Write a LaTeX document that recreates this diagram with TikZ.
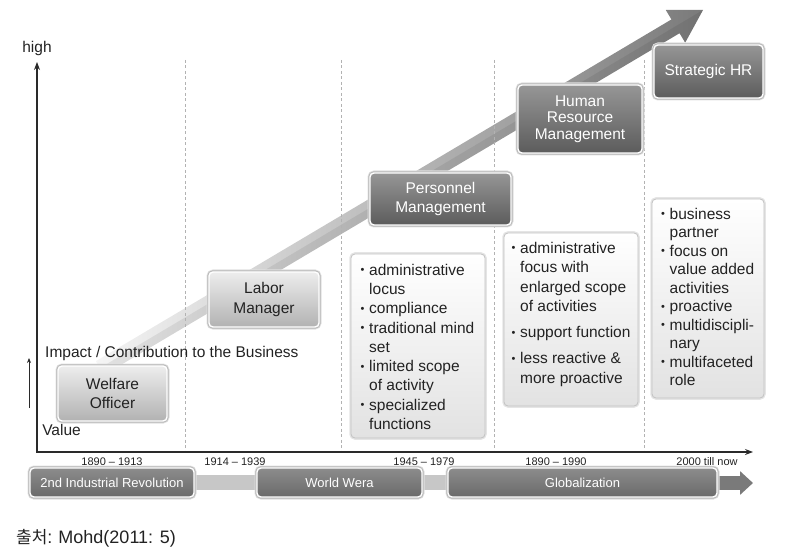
\documentclass[tikz,border=0pt]{standalone}
\usepackage{fontspec}
\setmainfont{Liberation Sans}
\newfontfamily\krfont{Noto Sans CJK KR}
\usetikzlibrary{arrows.meta}
\definecolor{dtop}{HTML}{969696}
\definecolor{dbot}{HTML}{5C5C5C}
\definecolor{ltop}{HTML}{EDEDED}
\definecolor{lbot}{HTML}{B2B2B2}
\definecolor{btop}{HTML}{FFFFFF}
\definecolor{bbot}{HTML}{E2E2E2}
\definecolor{ttop}{HTML}{8C8C8C}
\definecolor{tbot}{HTML}{6A6A6A}
\definecolor{txt}{HTML}{222222}
\definecolor{axiscol}{HTML}{2A2A2A}
\newcommand{\bulx}{\makebox[8.5pt][l]{\raisebox{1.5pt}{\fontsize{11}{11}\selectfont\textbullet}}}
\newcommand{\indx}{\makebox[8.5pt][l]{}}
\begin{document}
\begin{tikzpicture}[x=1pt,y=-1pt,
  rimbox/.style={rounded corners=4pt, draw=white, line width=1.4pt,
     preaction={draw=black!12, line width=5pt},
     preaction={draw=black!28, line width=3.4pt}},
  darkbox/.style={rimbox, top color=dtop, bottom color=dbot, text=white,
     align=center, font=\fontsize{15.5}{19.5}\selectfont},
  lightbox/.style={rimbox, top color=ltop, bottom color=lbot, text=txt,
     align=center, font=\fontsize{15.5}{19.5}\selectfont},
  bulbox/.style={rounded corners=4pt, draw=black!24, line width=0.8pt,
     preaction={draw=black!10, line width=3.5pt},
     top color=btop, bottom color=bbot},
  bultext/.style={anchor=north west, inner sep=0pt, align=left, text=txt},
  tlbar/.style={rimbox, top color=ttop, bottom color=tbot, text=white,
     font=\fontsize{13}{15}\selectfont, minimum height=29pt},
  tlconn/.style={line width=15pt, draw=black!22},
  year/.style={font=\fontsize{11}{12}\selectfont, text=txt, inner sep=0pt},
  vdash/.style={draw=black!30, line width=0.6pt, dash pattern=on 3pt off 2.5pt},
  axisline/.style={draw=axiscol, line width=1.2pt},
  lbl/.style={font=\fontsize{15.5}{18}\selectfont, text=txt, inner sep=0pt}
]
\useasboundingbox (0,0) rectangle (787,553);

% dashed separators
\foreach \xx/\nm in {185/d1,341/d2,494/d3,644/d4}{
  \coordinate (\nm t) at (\xx,60);
  \coordinate (\nm b) at (\xx,452);
}

% big rising arrow
\shade[left color=black!4, right color=black!52]
  (104.08,374.88) -- (679.57,33.22) -- (685.19,42.68) -- (703,10)
  -- (665.79,10.0) -- (671.41,19.46) -- (95.92,361.12) -- cycle;
\fill[black, opacity=0.07]
  (104.08,374.88) -- (679.57,33.22) -- (685.19,42.68) -- (703,10)
  -- (675.49,26.34) -- (100,368) -- cycle;

\foreach \nm in {d1,d2,d3,d4}{ \draw[vdash] (\nm t) -- (\nm b); }

% axes
\coordinate (orig) at (37,452);
\coordinate (xend) at (753,452);
\coordinate (yend) at (37,62);
\draw[axisline, {Stealth[length=8pt,width=6pt]}-{Stealth[length=8pt,width=6pt]}]
  (yend) -- (orig) -- (xend);
\node[lbl] (high) at (37,48) {high};

\coordinate (sa1) at (29,408);
\coordinate (sa2) at (29,358);
\draw[draw=axiscol, line width=0.8pt, -{Stealth[length=5pt,width=4pt]}] (sa1) -- (sa2);
\node[lbl, anchor=west] (impact) at (45,353) {Impact / Contribution to the Business};
\node[lbl] (value) at (61.5,430) {Value};

% stage boxes
\node[lightbox, minimum width=109pt, minimum height=55pt] (wo) at (112.5,393.5) {Welfare\\Officer};
\node[lightbox, minimum width=110pt, minimum height=55pt] (lm) at (264,299.5) {Labor\\Manager};
\node[darkbox, minimum width=141pt, minimum height=52pt] (pm) at (440.5,199) {Personnel\\Management};
\node[darkbox, minimum width=124pt, minimum height=68pt, font=\fontsize{15.5}{16.5}\selectfont] (hrm) at (580,119) {Human\\Resource\\Management};
\node[darkbox, minimum width=109pt, minimum height=53pt] (shr) at (708.5,71.5) {Strategic HR};

% bullet boxes
\node[bulbox, minimum width=134pt, minimum height=184pt] (b1) at (418,346) {};
\node[bultext, font=\fontsize{15.5}{19.25}\selectfont] (t1) at (360.5,264) {%
\bulx administrative\\ \indx locus\\ \bulx compliance\\ \bulx traditional mind\\ \indx set\\
\bulx limited scope\\ \indx of activity\\ \bulx specialized\\ \indx functions};

\node[bulbox, minimum width=134pt, minimum height=173pt] (b2) at (571,319.5) {};
\node[bultext, font=\fontsize{15.5}{19.5}\selectfont] (t2) at (511.5,242) {%
\bulx administrative\\ \indx focus with\\ \indx enlarged scope\\ \indx of activities\\[6.5pt]
\bulx support function\\[6.5pt] \bulx less reactive \&\\ \indx more proactive};

\node[bulbox, minimum width=112pt, minimum height=199pt] (b3) at (708,298.5) {};
\node[bultext, font=\fontsize{15.5}{18.5}\selectfont] (t3) at (661,208) {%
\bulx business\\ \indx partner\\ \bulx focus on\\ \indx value added\\ \indx activities\\
\bulx proactive\\ \bulx multidiscipli-\\ \indx nary\\ \bulx multifaceted\\ \indx role};

% timeline
\node[year] (y1) at (112,462) {1890 – 1913};
\node[year] (y2) at (235,462) {1914 – 1939};
\node[year] (y3) at (424,462) {1945 – 1979};
\node[year] (y4) at (556,462) {1890 – 1990};
\node[year] (y5) at (707,462) {2000 till now};

\coordinate (ir0) at (112,482.5);
\coordinate (ww0) at (339.5,482.5);
\coordinate (gl0) at (582.5,482.5);
\coordinate (tlend) at (753,483);
\draw[tlconn] (194,482.5) -- (257,482.5);
\draw[tlconn] (422,482.5) -- (448,482.5);
\draw[line width=14pt, draw=black!52, -{Triangle[length=13pt,width=23pt]}] (716,483) -- (tlend);
\node[tlbar, minimum width=164pt] (ir) at (ir0) {2nd Industrial Revolution};
\node[tlbar, minimum width=165pt] (ww) at (ww0) {World Wera};
\node[tlbar, minimum width=269pt] (gl) at (gl0) {Globalization};

% source
\node[anchor=west, inner sep=0pt, text=txt, font=\fontsize{18}{20}\selectfont] (src) at (16,538)
  {{\krfont\fontsize{17}{20}\selectfont 출처}:\,\,Mohd(2011: 5)};
\end{tikzpicture}
\end{document}
